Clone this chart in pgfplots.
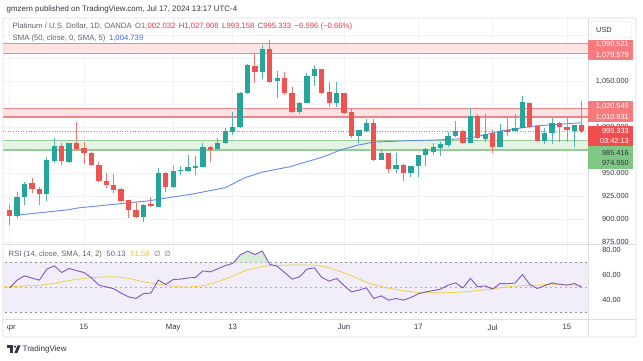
\documentclass[border=0pt]{standalone}
\usepackage{fontspec}
\setmainfont{Liberation Sans}
\newfontfamily\dejavu{DejaVu Sans}
\usepackage{pgfplots}
\usepackage{pgfplotstable}
\pgfplotsset{compat=1.18}

\definecolor{tvgreen}{RGB}{38,166,154}
\definecolor{tvred}{RGB}{239,83,80}
\definecolor{gridc}{RGB}{241,243,248}
\definecolor{framec}{RGB}{220,223,230}
\definecolor{zrline}{RGB}{242,132,136}
\definecolor{zrfill}{RGB}{253,227,228}
\definecolor{zgline}{RGB}{150,205,150}
\definecolor{zgfill}{RGB}{229,243,229}
\definecolor{smablue}{RGB}{98,138,245}
\definecolor{smatext}{RGB}{60,110,240}
\definecolor{rsipurple}{RGB}{126,87,194}
\definecolor{rsiyellow}{RGB}{242,208,70}
\definecolor{rsiytext}{RGB}{230,195,40}
\definecolor{rsiband}{RGB}{241,237,249}
\definecolor{rsigreen}{RGB}{214,238,214}
\definecolor{dashgray}{RGB}{140,143,152}
\definecolor{lg}{RGB}{95,99,110}
\definecolor{hdr}{RGB}{50,54,64}
\definecolor{tvtred}{RGB}{242,54,69}
\definecolor{lblred}{RGB}{247,122,126}
\definecolor{curred}{RGB}{240,78,78}
\definecolor{lblgreen}{RGB}{129,199,132}

\newcommand\tvf{\fontsize{7.7}{9}\selectfont}
\newcommand\hdf{\fontsize{7.9}{9}\selectfont}
\newcommand\axf{\fontsize{7.4}{9}\selectfont}

% green candles: index, open, high, low, close
\pgfplotstableread{
i o h l c
1 903.3 929.7 900.8 923.6
2 923.6 940.5 915.2 938.0
5 927.2 967.7 919.9 964.1
6 963.4 987.7 961.0 979.3
8 962.3 983.0 960.5 982.3
18 901.8 916.0 897.0 915.2
20 913.4 955.1 913.4 949.7
22 935.1 957.6 933.4 952.2
23 952.5 957.6 948.0 953.5
24 952.5 969.6 951.4 956.8
25 956.5 968.5 947.8 957.5
26 956.8 982.3 956.0 978.6
28 975.8 987.7 975.0 982.3
29 982.3 998.6 981.5 996.0
30 994.9 1016.6 991.3 1000.3
31 999.7 1038.4 998.6 1036.6
32 1036.6 1068.5 1035.9 1067.4
34 1060.1 1089.1 1051.8 1084.5
36 1050.0 1061.2 1031.2 1052.9
39 1016.6 1027.5 1014.1 1025.8
40 1025.8 1058.4 1025.8 1055.4
41 1055.4 1067.4 1044.6 1062.7
44 1026.4 1049.2 1022.1 1036.6
47 990.2 996.7 982.9 996.7
48 996.0 1008.4 994.9 1004.7
50 964.1 975.8 964.1 971.4
52 954.0 972.1 949.7 958.7
54 949.7 957.6 945.3 957.6
55 957.6 969.6 946.1 969.6
56 969.6 976.8 957.6 975.8
57 973.2 982.3 969.6 977.9
58 976.8 984.0 968.5 981.5
59 980.4 994.9 978.6 990.2
60 990.2 1006.8 989.5 996.0
62 982.9 1020.3 982.3 1012.0
64 986.6 1014.1 984.0 992.4
66 977.9 1003.3 977.9 996.0
68 996.0 1014.1 996.0 998.6
69 998.6 1033.7 998.6 1027.5
72 985.1 998.6 981.5 993.2
73 993.8 1009.5 981.5 1004.0
76 996.0 1002.2 977.9 1002.2
}\upc

% red candles
\pgfplotstableread{
i o h l c
0 909.8 915.2 893.5 903.3
3 938.8 944.9 928.6 932.3
4 932.6 934.5 915.2 927.2
7 979.3 982.4 958.7 963.4
9 982.3 1005.8 974.2 976.1
10 976.8 984.0 959.8 971.4
11 972.1 973.0 957.9 958.7
12 958.7 961.6 939.9 941.3
13 941.3 949.7 933.4 937.0
14 937.0 948.6 927.9 931.5
15 932.3 933.4 918.8 919.9
16 920.7 921.0 900.8 909.8
17 909.8 918.8 900.8 901.8
19 916.0 924.2 913.4 914.5
21 949.7 951.4 929.7 935.1
27 978.6 979.0 962.3 975.0
33 1066.3 1079.3 1047.5 1060.1
35 1084.5 1094.6 1047.5 1049.2
37 1052.9 1060.1 1034.8 1036.6
38 1037.3 1043.8 1015.5 1016.6
42 1062.7 1063.0 1035.9 1037.3
43 1037.7 1049.2 1022.1 1026.4
45 1036.6 1037.0 1014.1 1015.5
46 1016.6 1020.3 987.7 990.2
49 1004.7 1008.4 963.4 964.1
51 971.4 971.8 949.7 954.0
53 958.7 959.8 941.6 950.3
61 996.0 996.4 981.5 982.9
63 1012.0 1014.1 986.6 987.7
65 993.2 996.7 971.4 977.9
67 996.5 1009.5 990.0 995.5
70 1026.4 1027.5 998.6 999.7
71 1001.1 1001.5 984.0 985.1
74 1004.0 1005.8 984.0 1000.3
75 1000.3 1011.2 984.0 996.7
77 1002.032 1027.908 993.158 995.333
}\downc

\pgfplotsset{
  wick/.style={only marks, mark=none, mark size=0pt, mark options={draw=none, fill=none}, forget plot,
    error bars/.cd, y dir=both, y explicit, error mark=none,
    error bar style={line width=0.9pt, #1}},
  body/.style={only marks, mark=none, mark size=0pt, mark options={draw=none, fill=none}, forget plot,
    error bars/.cd, y dir=both, y explicit, error mark=none,
    error bar style={line width=5.3pt, #1}},
}

\begin{document}
\begin{tikzpicture}
\useasboundingbox (0pt,0pt) rectangle (643pt,361pt);
\fill[white] (0pt,0pt) rectangle (643pt,361pt);

% ---------------- main price pane ----------------
\begin{axis}[
  at={(3pt,117pt)}, anchor=south west,
  scale only axis, width=585pt, height=226pt,
  xmin=-0.9, xmax=77.83, ymin=872.8, ymax=1118.5,
  axis line style={draw=none}, major tick length=0pt,
  xtick={0,10,22,30,45,55,65,75}, xticklabels={},
  ytick={875,900,925,950,975,1000,1025,1050,1075,1100},
  yticklabels={875.000,900.000,925.000,950.000,,{1,000.000},,{1,050.000},,},
  grid=major, major grid style={gridc, line width=0.6pt},
  yticklabel pos=right,
  yticklabel style={anchor=east, xshift=41pt, inner sep=0pt, font=\axf, text=hdr},
  clip=true,
]
% zones
\addplot[fill=zrfill, draw=none, forget plot] coordinates {(-2,1079.579) (80,1079.579) (80,1090.521) (-2,1090.521)} -- cycle;
\addplot[fill=zrfill, draw=none, forget plot] coordinates {(-2,1010.831) (80,1010.831) (80,1020.549) (-2,1020.549)} -- cycle;
\addplot[fill=zgfill, draw=none, forget plot] coordinates {(-2,974.950) (80,974.950) (80,985.416) (-2,985.416)} -- cycle;
\addplot[zrline, line width=1.1pt, forget plot] coordinates {(-2,1090.521) (80,1090.521)};
\addplot[zrline, line width=1.1pt, forget plot] coordinates {(-2,1079.579) (80,1079.579)};
\addplot[zrline, line width=1.1pt, forget plot] coordinates {(-2,1020.549) (80,1020.549)};
\addplot[zrline, line width=1.1pt, forget plot] coordinates {(-2,1010.831) (80,1010.831)};
\addplot[zgline, line width=1.1pt, forget plot] coordinates {(-2,985.416) (80,985.416)};
\addplot[zgline, line width=1.1pt, forget plot] coordinates {(-2,974.950) (80,974.950)};
\addplot[curred!80, dotted, line width=0.6pt, forget plot] coordinates {(-2,995.333) (80,995.333)};
% SMA 50
\addplot[smablue, line width=0.9pt, forget plot] coordinates {
(1.1,904.3) (7.7,909.8) (9.2,912.0) (18.9,919.9) (20.9,922.6) (24.5,927.0) (29,934.0)
(31.7,945.0) (34,951.0) (37.7,956.8) (42.2,967.5) (44.5,975.0) (46.7,980.0) (48.9,983.5)
(53.5,985.1) (57.9,986.0) (61.7,987.7) (64,991.5) (66.3,996.0) (70.7,1001.1) (77,1004.7)};
% candles
\addplot[wick=tvgreen!80] table[x=i, y expr={(\thisrow{h}+\thisrow{l})/2}, y error expr={(\thisrow{h}-\thisrow{l})/2}] {\upc};
\addplot[wick=tvred!80] table[x=i, y expr={(\thisrow{h}+\thisrow{l})/2}, y error expr={(\thisrow{h}-\thisrow{l})/2}] {\downc};
\addplot[body=tvgreen] table[x=i, y expr={(\thisrow{o}+\thisrow{c})/2}, y error expr={max(abs(\thisrow{c}-\thisrow{o})/2,0.6)}] {\upc};
\addplot[body=tvred] table[x=i, y expr={(\thisrow{o}+\thisrow{c})/2}, y error expr={max(abs(\thisrow{c}-\thisrow{o})/2,0.6)}] {\downc};
\end{axis}

% ---------------- RSI pane ----------------
\begin{scope}
\clip (3pt,42pt) rectangle (643pt,361pt) (7pt,0pt) rectangle (643pt,42pt);
\begin{axis}[
  at={(3pt,42pt)}, anchor=south west,
  scale only axis, width=585pt, height=75pt,
  xmin=-0.9, xmax=77.83, ymin=24.8, ymax=84.8,
  axis line style={draw=none}, major tick length=0pt,
  xtick={0,10,22,30,45,55,65,75}, xticklabels={Apr,15,May,13,Jun,17,Jul,15},
  ytick={40,60,80}, yticklabels={40.00,60.00,80.00},
  xmajorgrids=true, major grid style={gridc, line width=0.6pt},
  yticklabel pos=right,
  yticklabel style={anchor=east, xshift=33pt, inner sep=0pt, font=\axf, text=hdr},
  xticklabel style={font=\tvf, text=hdr, yshift=-2pt},
  clip=true,
]
\addplot[fill=rsiband, draw=none, forget plot] coordinates {(-2,30) (80,30) (80,70) (-2,70)} -- cycle;
\addplot[dashgray, dash pattern=on 2.5pt off 2.5pt, line width=0.6pt, forget plot] coordinates {(-2,70) (80,70)};
\addplot[dashgray!70, dash pattern=on 2.5pt off 2.5pt, line width=0.6pt, forget plot] coordinates {(-2,50) (80,50)};
\addplot[dashgray, dash pattern=on 2.5pt off 2.5pt, line width=0.6pt, forget plot] coordinates {(-2,30) (80,30)};
\addplot[fill=rsigreen, draw=none, forget plot] coordinates {(30.1,70) (31,75.9) (32,79.1) (33,76.4) (34,79.1) (34.8,70)} -- cycle;
% RSI-based SMA 14
\addplot[rsiyellow, line width=0.8pt, smooth, forget plot] coordinates {
(-1,50.5) (4.3,51.9) (7,54.5) (9.8,57.2) (13,58.5) (15.3,57.9) (18.1,54.5) (20.9,51.9)
(23.6,50.3) (26.4,51.9) (29.2,57.2) (31.9,63.9) (34.7,67.3) (37.5,67.9) (40.8,67.9)
(43,65.7) (45.8,59.9) (48.5,53.2) (51.3,49.2) (54.1,46.5) (56.9,45.7) (59.6,46)
(62.4,47.1) (65.2,49.2) (67.9,51.1) (70.7,51.9) (73.5,52.7) (77,51.58)};
% RSI 14
\addplot[rsipurple, line width=0.9pt, forget plot] coordinates {
(0,49.7) (1,55.9) (2,59.3) (3,57.5) (4,55.9) (5,64.7) (6,67.3) (7,62) (8,65.2) (9,63.5)
(10,62) (11,57.7) (12,51.9) (13,50.5) (14,49) (15,45.5) (16,42.5) (17,41.2) (18,45.2) (19,45.5)
(20,55.9) (21,52.4) (22,56.4) (23,56.7) (24,57.7) (25,58) (26,63.3) (27,62.5) (28,65) (29,67.5)
(30,69.2) (31,75.9) (32,79.1) (33,76.4) (34,79.1) (35,68.5) (36,67) (37,62) (38,56.7) (39,58.5)
(40,64.7) (41,65.7) (42,58) (43,55.1) (44,57.2) (45,51.5) (46,46.5) (47,47.9) (48,49.7) (49,41.2)
(50,43.3) (51,39.9) (52,41.2) (53,39.9) (54,42) (55,45) (56,46.5) (57,47.5) (58,48.7) (59,51.9)
(60,53.7) (61,49.7) (62,57.2) (63,50.5) (64,51.3) (65,48.7) (66,53.2) (67,53) (68,53.5) (69,60.4)
(70,52.4) (71,49.2) (72,51.5) (73,53.7) (74,52.5) (75,51.9) (76,53.2) (77,50.13)};
\end{axis}
\end{scope}

% ---------------- overlays (pixel coordinates, y downward) ----------------
\begin{scope}[x=1pt, y=-1pt, shift={(0pt,361pt)}]
% frame
\draw[framec, line width=0.8pt, rounded corners=2pt] (3,18) rectangle (636,337);
\draw[framec, line width=0.8pt] (588,18) -- (588,337);
\draw[framec, line width=0.8pt] (3,244) -- (636,244);
\draw[framec, line width=0.8pt] (3,319) -- (636,319);
% USD box
\draw[framec, fill=white, rounded corners=2pt] (591.5,21.5) rectangle (631.5,37.5);
\node[anchor=west, inner sep=0pt, text=hdr] at (596,29.5) {\axf USD};
% price labels
\fill[lblred] (588.4,40.5) rectangle (633,60.5);
\node[anchor=east, inner sep=0pt, text=white] at (629,44.8) {\axf 1,090.521};
\node[anchor=east, inner sep=0pt, text=white] at (629,55.2) {\axf 1,079.579};
\fill[lblred] (588.4,100.7) rectangle (633,122.5);
\node[anchor=east, inner sep=0pt, text=white] at (629,106.2) {\axf 1,020.549};
\node[anchor=east, inner sep=0pt, text=white] at (629,117.2) {\axf 1,010.831};
\fill[curred] (588.4,126) rectangle (633,146);
\node[anchor=east, inner sep=0pt, text=white] at (629,131.2) {\axf 995.333};
\node[anchor=east, inner sep=0pt, text=white] at (629,140.5) {\axf 03:42:13};
\fill[lblgreen] (588.4,146) rectangle (633,169);
\node[anchor=east, inner sep=0pt, text=hdr] at (629,152.5) {\axf 985.416};
\node[anchor=east, inner sep=0pt, text=hdr] at (629,163.3) {\axf 974.950};
% header
\node[anchor=west, inner sep=0pt, text=hdr] at (6.5,9.3) {\hdf gmzern published on TradingView.com, Jul 17, 2024 13:17 UTC-4};
\node[anchor=west, inner sep=0pt] at (12.5,27) {\tvf\textcolor{lg}{Platinum / U.S. Dollar, 1D, OANDA}\hspace{3.5pt}\textcolor{lg}{O}\textcolor{tvtred}{1,002.032}\hspace{3.5pt}\textcolor{lg}{H}\textcolor{tvtred}{1,027.908}\hspace{3.5pt}\textcolor{lg}{L}\textcolor{tvtred}{993.158}\hspace{3.5pt}\textcolor{lg}{C}\textcolor{tvtred}{995.333}\hspace{3.5pt}\textcolor{tvtred}{−6.596 (−0.66\%)}};
\node[anchor=west, inner sep=0pt] at (12.5,38.3) {\tvf\textcolor{lg}{SMA (50, close, 0, SMA, 5)}\hspace{3.5pt}\textcolor{smatext}{1,004.739}};
\node[anchor=west, inner sep=0pt] at (8.5,254.5) {\tvf\textcolor{lg}{RSI (14, close, SMA, 14, 2)}\hspace{4.5pt}\textcolor{rsipurple}{50.13}\hspace{4.5pt}\textcolor{rsiytext}{51.58}\hspace{4.5pt}\textcolor{lg}{{\dejavu\fontsize{7.4}{9}\selectfont ∅}\hspace{4pt}{\dejavu\fontsize{7.4}{9}\selectfont ∅}}};
% TradingView logo
\fill[hdr] (6.5,345.3) rectangle (12.8,347.8);
\fill[hdr] (9.6,345.3) rectangle (12.8,353.2);
\fill[hdr] (15,346.6) circle (1.3);
\fill[hdr] (17.6,345.3) -- (20.6,345.3) -- (17.2,353.2) -- (14.2,353.2) -- cycle;
\node[anchor=west, inner sep=0pt, text=hdr] at (22.5,349.3) {\fontsize{8}{9}\selectfont TradingView};
\end{scope}
\end{tikzpicture}
\end{document}
